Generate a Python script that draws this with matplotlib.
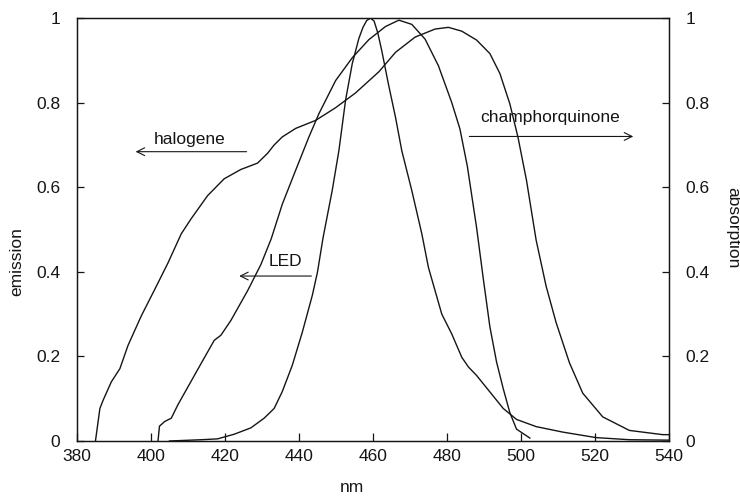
import matplotlib
matplotlib.use('Agg')
import matplotlib.pyplot as plt

# Spectra (nm, relative value)
halogen_nm = [385.0, 386.2, 387.1, 389.3, 391.6, 393.8, 397.4, 401.0, 404.6, 408.2,
              410.9, 415.3, 419.8, 424.3, 428.8, 431.5, 433.3, 435.5, 439.1, 444.5,
              449.9, 455.3, 461.6, 466.1, 471.4, 476.8, 480.4, 484.0, 488.0, 491.6,
              494.3, 497.0, 499.2, 501.5, 504.1, 506.8, 509.5, 513.1, 516.7, 522.1,
              529.3, 538.3, 540.0]
halogen_em = [0.0, 0.077, 0.097, 0.140, 0.171, 0.226, 0.296, 0.358, 0.421, 0.490,
              0.526, 0.580, 0.620, 0.642, 0.657, 0.680, 0.700, 0.719, 0.739, 0.758,
              0.788, 0.823, 0.873, 0.919, 0.955, 0.974, 0.978, 0.969, 0.948, 0.916,
              0.869, 0.797, 0.718, 0.616, 0.475, 0.366, 0.280, 0.185, 0.113, 0.057,
              0.025, 0.015, 0.015]

led_nm = [405.0, 413.6, 418.0, 422.5, 427.0, 430.6, 433.3, 435.5, 438.2, 440.9,
          443.6, 445.0, 446.5, 449.0, 450.8, 452.6, 454.4, 456.2, 457.3, 458.3,
          459.3, 460.3, 461.3, 462.4, 464.2, 466.1, 467.8, 470.5, 473.2, 475.0,
          476.8, 478.6, 481.3, 484.0, 485.8, 488.0, 491.6, 495.2, 498.8, 504.1,
          511.3, 520.3, 529.3, 540.0]
led_em = [0.0, 0.003, 0.005, 0.016, 0.031, 0.054, 0.077, 0.117, 0.179, 0.257,
          0.344, 0.399, 0.480, 0.593, 0.687, 0.806, 0.892, 0.952, 0.978, 0.994,
          1.0, 0.993, 0.965, 0.922, 0.843, 0.765, 0.686, 0.592, 0.490, 0.410,
          0.355, 0.300, 0.253, 0.198, 0.175, 0.155, 0.116, 0.077, 0.051, 0.034,
          0.021, 0.008, 0.003, 0.002]

cq_nm = [401.9, 402.3, 403.7, 405.5, 406.4, 407.3, 410.0, 413.6, 417.1, 418.9,
         421.6, 426.1, 429.7, 432.5, 435.5, 439.1, 442.7, 445.4, 449.9, 454.4,
         458.9, 463.4, 467.0, 470.5, 474.1, 477.7, 481.3, 483.5, 485.5, 488.0,
         489.8, 491.6, 493.4, 495.2, 497.0, 498.8, 502.4]
cq_abs = [0.0, 0.035, 0.046, 0.054, 0.070, 0.086, 0.128, 0.184, 0.238, 0.250,
          0.285, 0.355, 0.417, 0.478, 0.560, 0.640, 0.719, 0.774, 0.852, 0.906,
          0.949, 0.980, 0.995, 0.985, 0.950, 0.887, 0.800, 0.738, 0.650, 0.505,
          0.385, 0.270, 0.187, 0.124, 0.067, 0.028, 0.007]

x_ticks = [380, 400, 420, 440, 460, 480, 500, 520, 540]
y_ticks = [0, 0.2, 0.4, 0.6, 0.8, 1]
y_labels = ['0', '0.2', '0.4', '0.6', '0.8', '1']

plt.rcParams['font.family'] = ['Liberation Sans', 'DejaVu Sans']
plt.rcParams['font.size'] = 12.5
ink = '#151515'

fig = plt.figure(figsize=(7.4, 4.97), dpi=100)
ax = fig.add_axes([0.104, 0.1127, 0.8, 0.851])
ax2 = ax.twinx()

# emission curves on the left axis, absorption on the right one
ax.plot(halogen_nm, halogen_em, color=ink, lw=1.0)
ax.plot(led_nm, led_em, color=ink, lw=1.0)
ax2.plot(cq_nm, cq_abs, color=ink, lw=1.0)

for a in (ax, ax2):
    a.set_xlim(380, 540)
    a.set_ylim(0, 1)
    for s in a.spines.values():
        s.set_linewidth(0.9)
        s.set_color(ink)

ax.set_xticks(x_ticks)
ax.set_yticks(y_ticks)
ax.set_yticklabels(y_labels)
ax2.set_yticks(y_ticks)
ax2.set_yticklabels(y_labels)
ax.tick_params(axis='x', direction='in', length=6, width=0.9, pad=6, colors=ink)
ax.tick_params(axis='y', direction='in', length=5, width=0.9, pad=12, colors=ink)
ax2.tick_params(axis='y', direction='in', length=5, width=0.9, pad=12, colors=ink)

# labels with arrows pointing to the axis each curve belongs to
arrow = dict(arrowstyle='->', lw=0.8, color=ink, mutation_scale=14)
ax.annotate('', xy=(395.1, 0.684), xytext=(426.6, 0.684), arrowprops=arrow)
ax.text(410.4, 0.713, 'halogene', ha='center', va='center', color=ink)
ax.annotate('', xy=(423.1, 0.39), xytext=(444.1, 0.39), arrowprops=arrow)
ax.text(436.4, 0.424, 'LED', ha='center', va='center', color=ink)
ax.annotate('', xy=(531.1, 0.72), xytext=(485.3, 0.72), arrowprops=arrow)
ax.text(507.8, 0.764, 'champhorquinone', ha='center', va='center', color=ink)

fig.text(17 / 740, 1 - 262 / 497, 'emission', rotation=90, ha='center', va='center', color=ink)
fig.text(733 / 740, 1 - 228 / 497, 'absorption', rotation=-90, ha='center', va='center', color=ink)
fig.text(352 / 740, 1 - 487 / 497, 'nm', ha='center', va='center', color=ink)

fig.savefig('out.png', dpi=100)
